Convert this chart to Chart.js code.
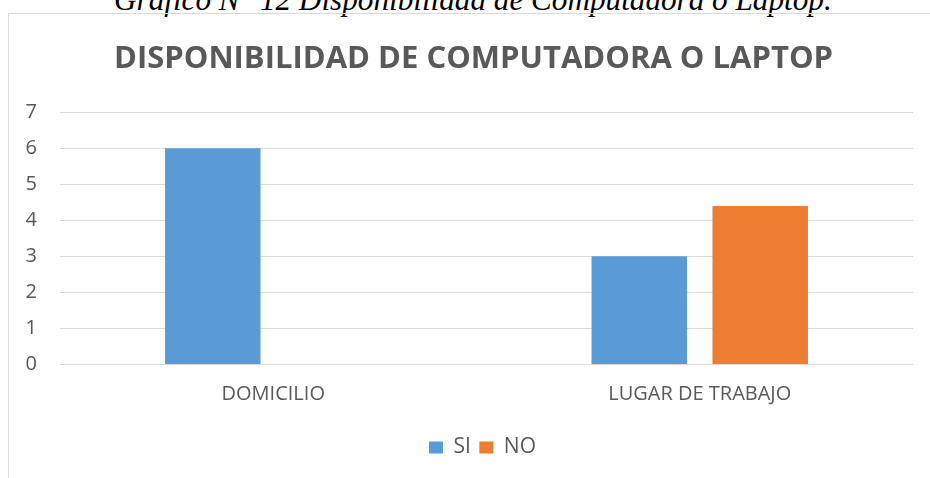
<!DOCTYPE html>
<html>
<head>
<meta charset="utf-8">
<script src="https://cdn.jsdelivr.net/npm/chart.js@4.4.1/dist/chart.umd.min.js"></script>
<style>
  html, body { margin: 0; padding: 0; background: #fff; overflow: hidden; }
  #wrap { position: relative; width: 930px; height: 478px; }
  #caption {
    position: absolute; left: 114px; top: -16px;
    font: italic 31.2px "Liberation Serif", serif; line-height: 31px;
    white-space: nowrap; color: #000;
  }
  #frame {
    position: absolute; left: 8px; top: 13px; width: 1000px; height: 600px;
    border: 1px solid #d9d9d9; box-sizing: border-box;
  }
  #chart { position: absolute; left: 0; top: 0; }
</style>
</head>
<body>
<div id="wrap">
  <div id="caption">Gráfico N° 12 Disponibilidad de Computadora o Laptop.</div>
  <div id="frame"></div>
  <canvas id="chart" width="930" height="478"></canvas>
</div>
<script>
// chart data
const categories = ['DOMICILIO', 'LUGAR DE TRABAJO'];
const siValues = [6, 3];
const noValues = [0, 4.4];
const yTicks = [0, 1, 2, 3, 4, 5, 6, 7];

const textColor = '#595959';
const baseFont = '"Open Sans", sans-serif';

// the title and legend sit a bit right of the plot centre in the original
const shiftBoxes = {
  id: 'shiftBoxes',
  afterLayout(chart) {
    if (chart.titleBlock) chart.titleBlock.left += 34;
    if (chart.legend) {
      chart.legend.left += 26;
      chart.legend.right += 26;
      chart.legend.adjustHitBoxes();
    }
  },
};

new Chart(document.getElementById('chart'), {
  type: 'bar',
  data: {
    labels: categories,
    datasets: [
      { label: 'SI', data: siValues, backgroundColor: '#5B9BD5',
        categoryPercentage: 0.567, barPercentage: 0.79 },
      { label: 'NO', data: noValues, backgroundColor: '#ED7D31',
        categoryPercentage: 0.567, barPercentage: 0.79 },
    ],
  },
  plugins: [shiftBoxes],
  options: {
    responsive: false,
    animation: false,
    layout: { padding: { left: 0, right: 17, top: 0, bottom: 10 } },
    plugins: {
      title: {
        display: true,
        text: 'DISPONIBILIDAD DE COMPUTADORA O LAPTOP',
        color: textColor,
        font: { family: baseFont, size: 31, weight: 'bold' },
        padding: { top: 40.5, bottom: 34.5 },
      },
      legend: {
        position: 'bottom',
        labels: {
          color: textColor,
          font: { family: baseFont, size: 21 },
          boxWidth: 14, boxHeight: 12,
          padding: 8.5,
        },
      },
      tooltip: { enabled: false },
    },
    scales: {
      x: {
        grid: { display: false },
        border: { display: false },
        ticks: { color: textColor, font: { family: baseFont, size: 20 }, padding: 10 },
        afterFit: (scale) => { scale.height = 64; },
      },
      y: {
        min: 0, max: 7,
        afterBuildTicks: (scale) => { scale.ticks = yTicks.map(v => ({ value: v })); },
        grid: { color: '#d9d9d9', lineWidth: 1, drawTicks: false },
        border: { display: false },
        ticks: { color: textColor, font: { family: baseFont, size: 20 }, padding: 23 },
        afterFit: (scale) => { scale.width = 60; },
      },
    },
  },
});
</script>
</body>
</html>
